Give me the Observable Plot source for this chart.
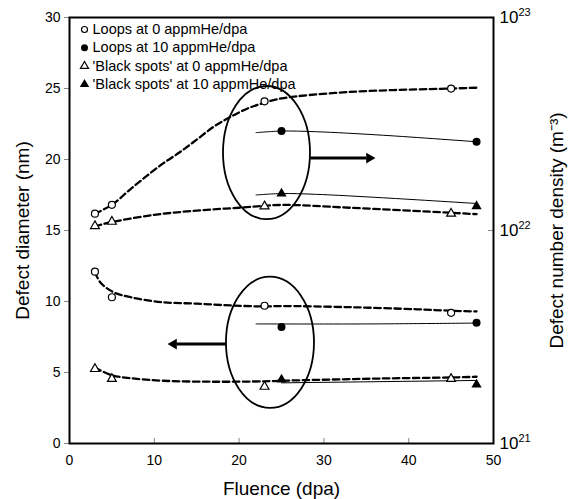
<!DOCTYPE html>
<html><head><meta charset="utf-8">
<script src="https://cdn.jsdelivr.net/npm/d3@7"></script>
<script src="https://cdn.jsdelivr.net/npm/@observablehq/plot@0.6"></script>
<style>body{margin:0;background:#fff;} #chart{width:569px;height:499px;}</style>
</head><body><div id="chart"></div>
<script>
// ---------- data ----------
const seriesNames = ["Loops at 0 appmHe/dpa", "Loops at 10 appmHe/dpa", "'Black spots' at 0 appmHe/dpa", "'Black spots' at 10 appmHe/dpa"];
const xTicks = [0, 10, 20, 30, 40, 50];
const diameterTicks = [0, 5, 10, 15, 20, 25, 30];
const densityTicks = [1e21, 1e22, 1e23];

// measured points: fluence (dpa), diameter (nm), number density (m^-3)
const loops0Fluence = [3, 5, 23, 45];
const loops0Diameter = [12.1, 10.3, 9.7, 9.2];
const loops0Density = [1.20e22, 1.32e22, 4.04e22, 4.64e22];

const loops10Fluence = [25, 48];
const loops10Diameter = [8.2, 8.5];
const loops10Density = [2.93e22, 2.61e22];

const spots0Fluence = [3, 5, 23, 45];
const spots0Diameter = [5.25, 4.55, 4.0, 4.55];
const spots0Density = [1.05e22, 1.10e22, 1.30e22, 1.20e22];

const spots10Fluence = [25, 48];
const spots10Diameter = [4.5, 4.15];
const spots10Density = [1.49e22, 1.30e22];

// trend curves
const loops0DensityCurveX = [3, 5, 7, 9, 11, 13, 15, 17, 19, 21, 23, 25, 33, 45, 48];
const loops0DensityCurveY = [1.20e22, 1.32e22, 1.54e22, 1.79e22, 2.06e22, 2.33e22, 2.67e22, 3.07e22, 3.42e22, 3.74e22, 3.98e22, 4.17e22, 4.47e22, 4.64e22, 4.68e22];
const spots0DensityCurveX = [3, 5, 10, 15, 20, 25, 33, 45, 48];
const spots0DensityCurveY = [1.047e22, 1.096e22, 1.184e22, 1.240e22, 1.279e22, 1.318e22, 1.279e22, 1.211e22, 1.193e22];
const loops10DensityCurveX = [22, 25, 29, 37, 48];
const loops10DensityCurveY = [2.88e22, 2.93e22, 2.91e22, 2.80e22, 2.61e22];
const spots10DensityCurveX = [22, 25, 29, 37, 48];
const spots10DensityCurveY = [1.468e22, 1.491e22, 1.479e22, 1.424e22, 1.339e22];

const loops0DiameterCurveX = [3, 3.7, 5.2, 7.2, 11, 15, 19, 23, 25, 33, 41, 45, 48];
const loops0DiameterCurveY = [12.05, 11.3, 10.65, 10.3, 9.95, 9.85, 9.72, 9.65, 9.68, 9.6, 9.45, 9.35, 9.3];
const spots0DiameterCurveX = [3, 5, 7.2, 11, 17, 23, 25, 37, 45, 48];
const spots0DiameterCurveY = [5.35, 4.8, 4.6, 4.42, 4.35, 4.38, 4.42, 4.58, 4.65, 4.7];
const loops10DiameterCurveX = [22, 35, 48];
const loops10DiameterCurveY = [8.42, 8.42, 8.48];
const spots10DiameterCurveX = [25, 48];
const spots10DiameterCurveY = [4.27, 4.44];

// ---------- helpers ----------
// right (log) axis 1e21..1e23 shares the frame with left axis 0..30
const densityToLeft = d3.scaleLog().domain([densityTicks[0], densityTicks[2]]).range([diameterTicks[0], diameterTicks[diameterTicks.length - 1]]);
const pts = (xs, ys) => xs.map((x, i) => ({x, y: ys[i]}));
const dens = (xs, ds) => xs.map((x, i) => ({x, y: densityToLeft(ds[i])}));

const dashed = {x: "x", y: "y", curve: "catmull-rom", stroke: "black", strokeWidth: 2.3, strokeDasharray: "6.5,3.5"};
const solid = {x: "x", y: "y", curve: "catmull-rom", stroke: "black", strokeWidth: 1};
const openCircle = {x: "x", y: "y", symbol: "circle", r: 3.5, fill: "white", stroke: "black", strokeWidth: 1.2};
const fullCircle = {x: "x", y: "y", symbol: "circle", r: 4, fill: "black", stroke: "none"};
const openTri = {x: "x", y: "y", symbol: "triangle", r: 3.3, fill: "white", stroke: "black", strokeWidth: 1.2};
const fullTri = {x: "x", y: "y", symbol: "triangle", r: 3.8, fill: "black", stroke: "none"};

const legendStyles = [
  {symbol: "circle", r: 3, fill: "white", stroke: "black", strokeWidth: 1.2},
  {symbol: "circle", r: 3.5, fill: "black", stroke: "none"},
  {symbol: "triangle", r: 3, fill: "white", stroke: "black", strokeWidth: 1.2},
  {symbol: "triangle", r: 3.5, fill: "black", stroke: "none"}
];

const chart = Plot.plot({
  width: 569, height: 499,
  marginLeft: 69, marginRight: 76, marginTop: 17, marginBottom: 56,
  x: {domain: [0, 50]},
  y: {domain: [0, 30]},
  style: {fontFamily: "'Liberation Sans', Arial, sans-serif", fontSize: "14px", background: "white", color: "black"},
  marks: [
    // axes
    Plot.axisX(xTicks, {tickSize: 0, tickPadding: 12, label: null, fontSize: 14}),
    Plot.ruleX(xTicks.slice(1, -1), {x: d => d, insetTop: 421, stroke: "#888"}),
    Plot.axisY(diameterTicks, {anchor: "left", tickSize: 5, tickPadding: 4, label: null, fontSize: 14, stroke: "#888"}),
    Plot.axisY(densityTicks.map(d => densityToLeft(d)), {anchor: "right", tickSize: 0, tickPadding: 6, label: null, fontSize: 17,
      tickFormat: v => "10^" + Math.round(Math.log10(densityToLeft.invert(v)))}),
    Plot.ruleY([densityToLeft(densityTicks[1])], {y: d => d, insetLeft: 419, stroke: "#888"}),
    Plot.text(["Fluence (dpa)"], {frameAnchor: "bottom", dy: 45, fontSize: 19, textAnchor: "middle", lineAnchor: "middle"}),
    Plot.text(["Defect diameter (nm)"], {frameAnchor: "left", dx: -47, rotate: -90, fontSize: 19, textAnchor: "middle", lineAnchor: "middle"}),
    Plot.text(["Defect number density (m⁻³)"], {frameAnchor: "right", dx: 63, rotate: -90, fontSize: 19, textAnchor: "middle", lineAnchor: "middle"}),

    // trend curves
    Plot.line(dens(loops0DensityCurveX, loops0DensityCurveY), dashed),
    Plot.line(dens(spots0DensityCurveX, spots0DensityCurveY), dashed),
    Plot.line(dens(loops10DensityCurveX, loops10DensityCurveY), solid),
    Plot.line(dens(spots10DensityCurveX, spots10DensityCurveY), solid),
    Plot.line(pts(loops0DiameterCurveX, loops0DiameterCurveY), dashed),
    Plot.line(pts(spots0DiameterCurveX, spots0DiameterCurveY), dashed),
    Plot.line(pts(loops10DiameterCurveX, loops10DiameterCurveY), solid),
    Plot.line(pts(spots10DiameterCurveX, spots10DiameterCurveY), solid),

    // points
    Plot.dot(dens(loops0Fluence, loops0Density), openCircle),
    Plot.dot(pts(loops0Fluence, loops0Diameter), openCircle),
    Plot.dot(dens(loops10Fluence, loops10Density), fullCircle),
    Plot.dot(pts(loops10Fluence, loops10Diameter), fullCircle),
    Plot.dot(dens(spots0Fluence, spots0Density), openTri),
    Plot.dot(pts(spots0Fluence, spots0Diameter), openTri),
    Plot.dot(dens(spots10Fluence, spots10Density), fullTri),
    Plot.dot(pts(spots10Fluence, spots10Diameter), fullTri),

    // arrows
    Plot.link([{x1: 28.4, x2: 35.0, y: 20.1}], {x1: "x1", x2: "x2", y1: "y", y2: "y", stroke: "black", strokeWidth: 3}),
    Plot.dot([{x: 35.35, y: 20.1}], {x: "x", y: "y", symbol: "triangle", rotate: 90, r: 4, fill: "black", stroke: "none"}),
    Plot.link([{x1: 18.5, x2: 12.6, y: 7.0}], {x1: "x1", x2: "x2", y1: "y", y2: "y", stroke: "black", strokeWidth: 3}),
    Plot.dot([{x: 12.29, y: 7.0}], {x: "x", y: "y", symbol: "triangle", rotate: -90, r: 4, fill: "black", stroke: "none"}),

    // legend
    ...seriesNames.flatMap((name, i) => [
      Plot.dot([name], {frameAnchor: "top-left", dx: 15, dy: 12 + 18.3 * i, ...legendStyles[i]}),
      Plot.text([name], {frameAnchor: "top-left", dx: 23, dy: 12 + 18.3 * i, text: d => d, textAnchor: "start", lineAnchor: "middle", fontSize: 14.5})
    ]),

    Plot.frame({stroke: "black", strokeWidth: 2})
  ]
});

document.getElementById("chart").appendChild(chart);

// ellipses around the groups (positioned through the plot's own scales)
const ellipses = [
  {cx: 23.29, cy: 20.45, rx: 5.13, ry: 4.69},
  {cx: 23.7, cy: 7.09, rx: 5.19, ry: 4.62}
];
const sx = chart.scale("x"), sy = chart.scale("y");
const svg = d3.select(chart);
ellipses.forEach(e => {
  const cx = sx.apply(e.cx), cy = sy.apply(e.cy);
  svg.append("ellipse")
    .attr("cx", cx).attr("cy", cy)
    .attr("rx", Math.abs(sx.apply(e.cx + e.rx) - cx))
    .attr("ry", Math.abs(sy.apply(e.cy + e.ry) - cy))
    .attr("fill", "none").attr("stroke", "black").attr("stroke-width", 1.8);
});

// superscripts on the right tick labels (10^22)
svg.selectAll("text").each(function () {
  const t = this.textContent;
  const m = t.match(/^(.*)\^(-?\d+)(.*)$/);
  if (!m) return;
  const fs = parseFloat(getComputedStyle(this).fontSize) || 17;
  const el = d3.select(this);
  el.text(null);
  el.append("tspan").text(m[1]);
  el.append("tspan").attr("dy", -0.42 * fs).attr("font-size", Math.round(fs * 0.65)).text(m[2]);
  if (m[3]) el.append("tspan").attr("dy", 0.42 * fs).text(m[3]);
});
</script>
</body></html>
